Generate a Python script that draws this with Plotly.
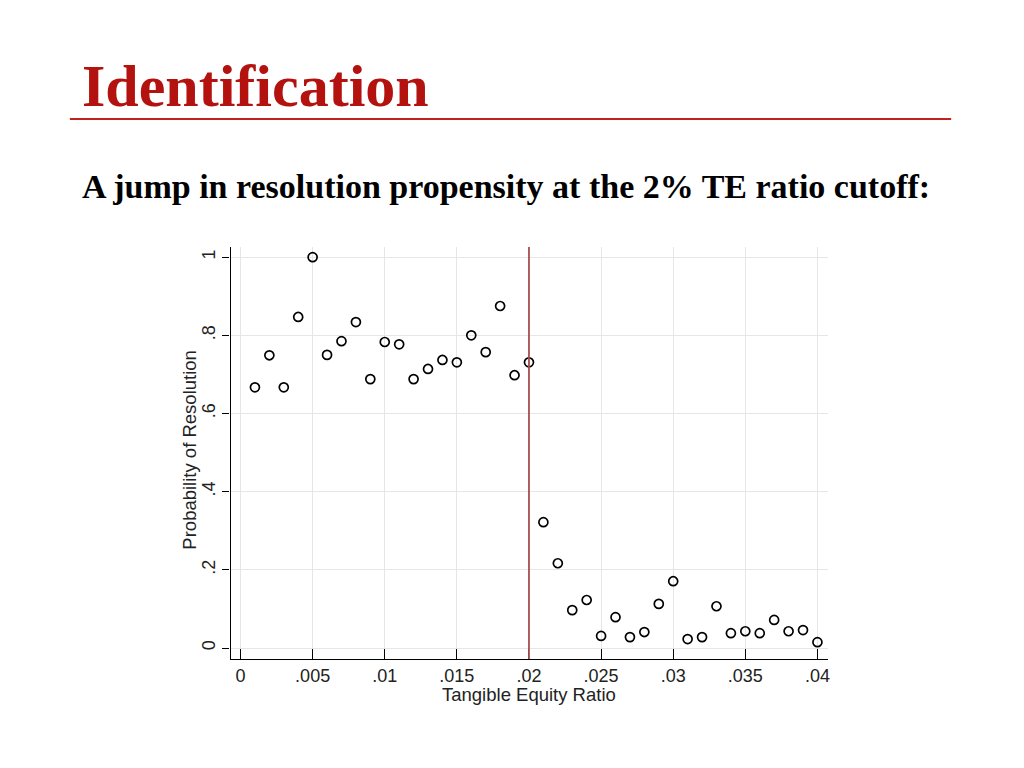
import plotly.graph_objects as go

te_ratio = [0.001, 0.002, 0.003, 0.004, 0.005, 0.006, 0.007, 0.008, 0.009, 0.010,
            0.011, 0.012, 0.013, 0.014, 0.015, 0.016, 0.017, 0.018, 0.019, 0.020,
            0.021, 0.022, 0.023, 0.024, 0.025, 0.026, 0.027, 0.028, 0.029, 0.030,
            0.031, 0.032, 0.033, 0.034, 0.035, 0.036, 0.037, 0.038, 0.039, 0.040]
prob_resolution = [0.667, 0.749, 0.667, 0.847, 1.000, 0.750, 0.785, 0.834, 0.688, 0.783,
                   0.777, 0.688, 0.714, 0.737, 0.731, 0.800, 0.757, 0.875, 0.698, 0.731,
                   0.322, 0.217, 0.097, 0.123, 0.031, 0.079, 0.028, 0.041, 0.113, 0.171,
                   0.023, 0.028, 0.107, 0.038, 0.043, 0.038, 0.072, 0.043, 0.046, 0.015]
cutoff = 0.02
x_ticks = [0, 0.005, 0.01, 0.015, 0.02, 0.025, 0.03, 0.035, 0.04]
x_labels = ["0", ".005", ".01", ".015", ".02", ".025", ".03", ".035", ".04"]
y_ticks = [0, 0.2, 0.4, 0.6, 0.8, 1]
y_labels = ["0", ".2", ".4", ".6", ".8", "1"]

W, H = 1024, 768
OFF = 8  # page body margin


def px(s):
    return (s - OFF) / W


def py(s):
    return 1 - (s - OFF) / H


fig = go.Figure()
fig.add_trace(go.Scatter(
    x=te_ratio, y=prob_resolution, mode="markers",
    marker=dict(symbol="circle-open", size=9, color="black", line=dict(width=1.7, color="black")),
    showlegend=False, hoverinfo="skip"))

fig.add_shape(type="line", xref="x", yref="paper", x0=cutoff, x1=cutoff,
              y0=py(659), y1=py(247), line=dict(color="#a5514d", width=1.8))

# header rule
fig.add_shape(type="line", xref="paper", yref="paper", x0=px(70), x1=px(953),
              y0=py(119), y1=py(119), line=dict(color="#c0201e", width=2.2))

fig.add_annotation(text="<b>Identification</b>", xref="paper", yref="paper",
                   x=px(80), y=py(86), xanchor="left", yanchor="middle", showarrow=False,
                   font=dict(family="Liberation Serif", size=60, color="#b3120f"))
fig.add_annotation(text="<b>A jump in resolution propensity at the 2% TE ratio cutoff:</b>",
                   xref="paper", yref="paper", x=px(80), y=py(187), xanchor="left",
                   yanchor="middle", showarrow=False,
                   font=dict(family="Liberation Serif", size=34, color="black"))

title_font = dict(family="Liberation Sans", size=18.5, color="#222")
fig.add_annotation(text="Tangible Equity Ratio", xref="paper", yref="paper",
                   x=px(530), y=py(694), xanchor="center", yanchor="middle",
                   showarrow=False, font=title_font)
fig.add_annotation(text="Probability of Resolution", xref="paper", yref="paper",
                   x=px(189), y=py(450), xanchor="center", yanchor="middle",
                   textangle=-90, showarrow=False, font=title_font)

axis_font = dict(family="Liberation Sans", size=18, color="#222")
fig.update_layout(
    width=W, height=H, margin=dict(l=0, r=0, t=0, b=0),
    paper_bgcolor="white", plot_bgcolor="white",
    xaxis=dict(domain=[px(231), px(830)], range=[-0.00069, 0.04076],
               tickvals=x_ticks, ticktext=x_labels, tickfont=axis_font,
               ticks="inside", ticklen=10, tickcolor="black", tickwidth=1.3,
               showline=True, linecolor="black", linewidth=1.3,
               showgrid=True, gridcolor="#e6e6e6", gridwidth=1, zeroline=False),
    yaxis=dict(domain=[py(659), py(247)], range=[-0.028, 1.026],
               tickvals=y_ticks, ticktext=y_labels, tickfont=axis_font, tickangle=-90,
               ticks="outside", ticklen=7, tickcolor="black", tickwidth=1.3,
               showline=True, linecolor="black", linewidth=1.3,
               showgrid=True, gridcolor="#e6e6e6", gridwidth=1, zeroline=False),
)

fig.write_html("out.html")
